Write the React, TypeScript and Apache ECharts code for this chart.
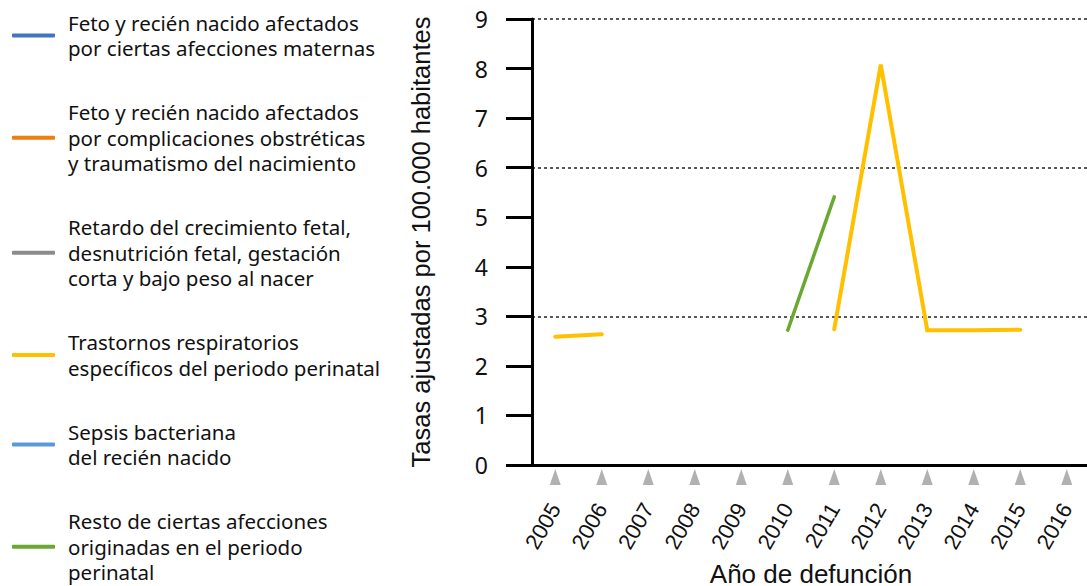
import React, { useEffect, useRef } from "react";
import * as echarts from "echarts";

const years = ["2005", "2006", "2007", "2008", "2009", "2010", "2011", "2012", "2013", "2014", "2015", "2016"];

const seriesNames = [
  "Feto y recién nacido afectados\npor ciertas afecciones maternas",
  "Feto y recién nacido afectados\npor complicaciones obstréticas\ny traumatismo del nacimiento",
  "Retardo del crecimiento fetal,\ndesnutrición fetal, gestación\ncorta y bajo peso al nacer",
  "Trastornos respiratorios\nespecíficos del periodo perinatal",
  "Sepsis bacteriana\ndel recién nacido",
  "Resto de ciertas afecciones\noriginadas en el periodo\nperinatal",
];

const seriesColors = ["#4472C4", "#F07D0E", "#8C8C8C", "#FFC000", "#5B9BD5", "#6AA832"];

const maternas: (number | null)[] = [null, null, null, null, null, null, null, null, null, null, null, null];
const complicaciones: (number | null)[] = [null, null, null, null, null, null, null, null, null, null, null, null];
const retardo: (number | null)[] = [null, null, null, null, null, null, null, null, null, null, null, null];
const respiratorios: (number | null)[] = [2.59, 2.64, null, null, null, null, 2.74, 8.08, 2.72, 2.72, 2.73, null];
const sepsis: (number | null)[] = [null, null, null, null, null, null, null, null, null, null, null, null];
const resto: (number | null)[] = [null, null, null, null, null, 2.72, 5.41, null, null, null, null, null];

const seriesData = [maternas, complicaciones, retardo, respiratorios, sepsis, resto];

// decorative markers drawn just below the axis, one per year
const tickMarkers = [-0.24, -0.24, -0.24, -0.24, -0.24, -0.24, -0.24, -0.24, -0.24, -0.24, -0.24, -0.24];

const yTicks = [0, 1, 2, 3, 4, 5, 6, 7, 8, 9];

export default function App() {
  const ref = useRef<HTMLDivElement>(null);
  useEffect(() => {
    if (!ref.current) return;
    const chart = echarts.init(ref.current, undefined, { renderer: "svg" });
    const lineSeries = seriesNames.map((name, i) => ({
      name,
      type: "line",
      data: seriesData[i],
      showSymbol: false,
      connectNulls: false,
      color: seriesColors[i],
      lineStyle: { width: i === 3 ? 4 : 3.5, color: seriesColors[i], cap: "round", join: "miter" },
      xAxisIndex: 0,
      yAxisIndex: 0,
      z: 3,
    }));
    chart.setOption({
      animation: false,
      legend: {
        orient: "vertical",
        left: 7,
        top: 5,
        height: 640,
        itemWidth: 43,
        itemHeight: 4,
        itemGap: 38.5,
        icon: "roundRect",
        data: seriesNames,
        textStyle: {
          fontFamily: "Noto Sans",
          fontSize: 20.5,
          lineHeight: 25.5,
          color: "#111",
          padding: [0, 0, 0, 8],
        },
        selectedMode: false,
      },
      grid: { left: 532, right: -3, top: 19, bottom: 121, containLabel: false, outerBoundsMode: "none" },
      xAxis: {
        type: "category",
        data: years,
        boundaryGap: true,
        axisLine: { show: true, lineStyle: { color: "#000", width: 3 } },
        axisTick: { show: false },
        axisLabel: {
          rotate: 60,
          margin: 40,
          fontFamily: "Liberation Sans",
          fontSize: 22,
          color: "#111",
          interval: 0,
        },
        name: "Año de defunción",
        nameLocation: "middle",
        nameGap: 96,
        nameMoveOverlap: false,
        nameTextStyle: { fontFamily: "Liberation Sans", fontSize: 26, color: "#111" },
      },
      yAxis: [
        {
          type: "value",
          min: yTicks[0],
          max: yTicks[yTicks.length - 1],
          interval: 1,
          axisLine: { show: true, lineStyle: { color: "#000", width: 3 } },
          axisTick: { show: true, inside: false, length: 26, lineStyle: { color: "#000", width: 3 } },
          axisLabel: {
            margin: 44,
            fontFamily: "Noto Sans",
            fontSize: 23,
            color: "#111",
          },
          splitLine: { show: false },
          name: "Tasas ajustadas por 100.000 habitantes",
          nameLocation: "middle",
          nameGap: 98,
          nameMoveOverlap: false,
          nameTextStyle: { fontFamily: "Liberation Sans", fontSize: 25.5, color: "#111" },
        },
        {
          type: "value",
          min: 0,
          max: 9,
          interval: 3,
          position: "left",
          axisLine: { show: false },
          axisTick: { show: false },
          axisLabel: { show: false },
          splitLine: { show: true, lineStyle: { color: "#222", width: 1.5, type: [3, 3] } },
        },
      ],
      series: [
        ...lineSeries,
        {
          name: "markers",
          type: "scatter",
          data: tickMarkers,
          symbol: "triangle",
          symbolSize: [11, 16],
          clip: false,
          silent: true,
          itemStyle: { color: "#A09E9C" },
          xAxisIndex: 0,
          yAxisIndex: 0,
          z: 2,
        },
      ],
    });
    return () => chart.dispose();
  }, []);
  return <div ref={ref} style={{ width: 1087, height: 586, position: "absolute", left: 0, top: 0 }} />;
}
